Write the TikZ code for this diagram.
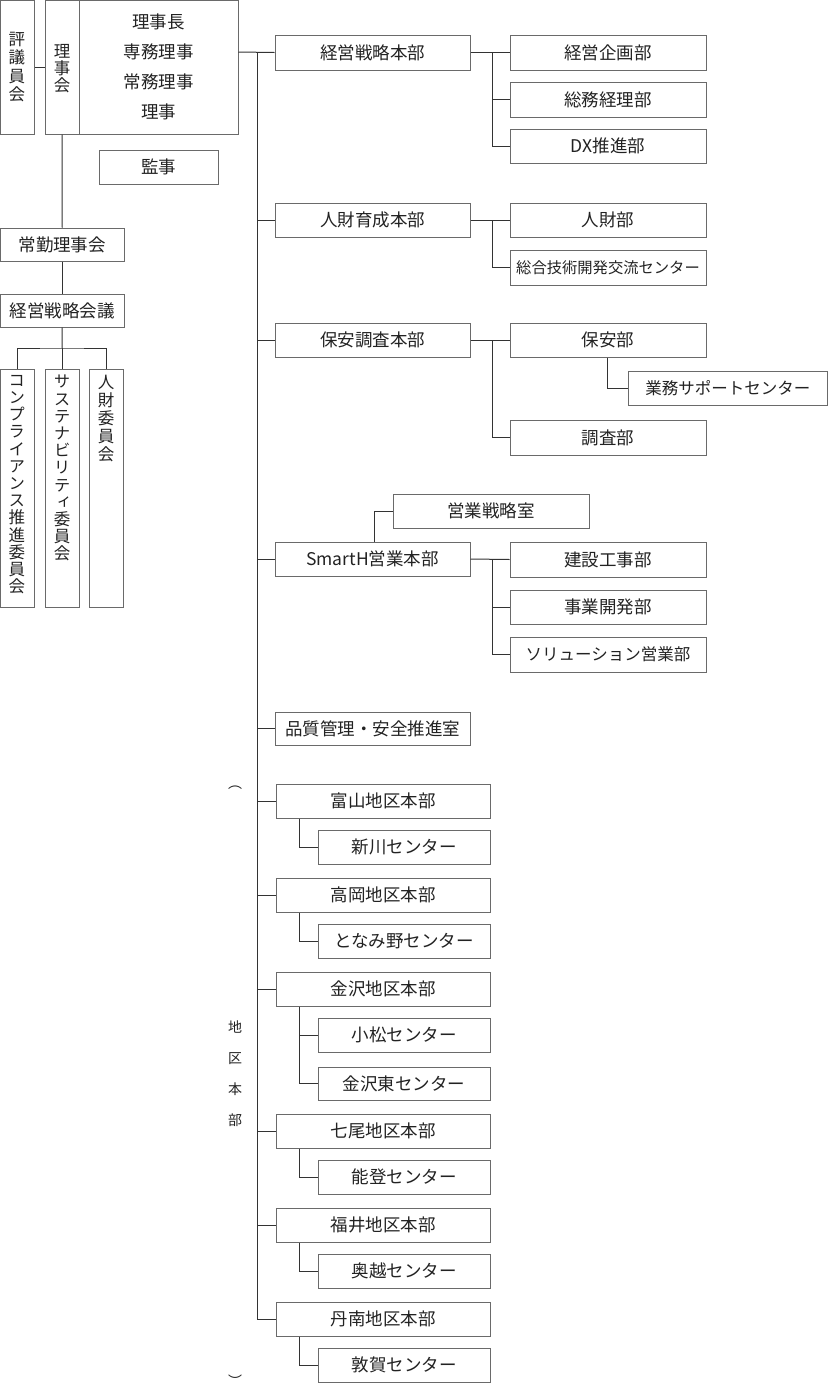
\documentclass[tikz,border=0pt]{standalone}
\usepackage{fontspec}
\newfontfamily\jp{Noto Sans CJK JP}
\newfontfamily\jpv[RawFeature=+vert]{Noto Sans CJK JP}
\definecolor{boxc}{HTML}{6A6A6A}
\definecolor{linec}{HTML}{333333}
\definecolor{txt}{HTML}{222222}
\newcommand\obox[7][]{\node[box,minimum width={#5-#3},minimum height={#6-#4},#1] (#2) at ({(#3+#5)/2},{(#4+#6)/2}) {#7};}
\begin{document}
\begin{tikzpicture}[x=1pt,y=-1pt,
  box/.style={draw=boxc, line width=1pt, inner sep=0pt, text=txt, font=\jp\fontsize{17.5}{19}\selectfont},
  conn/.style={draw=linec, line width=1pt},
  vtext/.style={inner sep=0pt, text=txt, align=center, font=\jpv\fontsize{16.5}{17.2}\selectfont},
  small/.style={font=\jp\fontsize{15.3}{17}\selectfont},
  mid/.style={font=\jp\fontsize{16.5}{18}\selectfont}
]
\useasboundingbox (0,0) rectangle (828,1390);

% left column
\obox{hyo}{0.5}{0.5}{34}{134}{}
\node[vtext, font=\jpv\fontsize{16.5}{18.3}\selectfont] (hyot) at (17,67) {評\\議\\員\\会};
\obox{riji}{45}{0.5}{79}{134}{}
\node[vtext, font=\jpv\fontsize{16.5}{17}\selectfont] (rijit) at (62,69) {理\\事\\会};
\obox[align=center, font=\jp\fontsize{17.5}{30}\selectfont]{rijim}{79}{0.5}{238}{134}{理事長\\専務理事\\常務理事\\理事}
\obox{kanji}{99}{150}{218}{184}{監事}
\obox{jokin}{0.5}{228}{124}{261}{常勤理事会}
\obox{senr}{0.5}{294}{124}{327}{経営戦略会議}
\obox{comp}{0.5}{369}{34}{607}{}
\obox{sus}{45}{369}{79}{607}{}
\obox{jiniin}{89}{369}{123}{607}{}
\node[vtext, anchor=north] (compt) at (17,375) {コ\\ン\\プ\\ラ\\イ\\ア\\ン\\ス\\推\\進\\委\\員\\会};
\node[vtext, anchor=north] (sust) at (62,375) {サ\\ス\\テ\\ナ\\ビ\\リ\\テ\\ィ\\委\\員\\会};
\node[vtext, anchor=north, font=\jpv\fontsize{16.5}{18}\selectfont] (jiniint) at (106,375) {人\\財\\委\\員\\会};

\draw[conn] (hyo.east) -- (riji.west);
\draw[conn] (riji.south) -- (jokin.north);
\draw[conn] (jokin.south) -- (senr.north);
\coordinate (J) at (62,348);
\draw[conn] (senr.south) -- (J);
\draw[conn] (comp.north) |- (J) -| (jiniin.north);
\draw[conn] (J) -- (sus.north);

% headquarters
\obox{keiei}{275}{35}{470}{70}{経営戦略本部}
\obox{kikaku}{510}{35}{706}{70}{経営企画部}
\obox{somu}{510}{82}{706}{117}{総務経理部}
\obox{dx}{510}{129}{706}{163}{DX推進部}

\obox{jinzai}{275}{203}{470}{237}{人財育成本部}
\obox{jinzaibu}{510}{203}{706}{237}{人財部}
\obox[small]{sogo}{510}{250}{706}{285}{総合技術開発交流センター}

\obox{hoan}{275}{323}{470}{357}{保安調査本部}
\obox{hoanbu}{510}{323}{706}{357}{保安部}
\obox[mid]{gyomu}{628}{371}{827.5}{405}{業務サポートセンター}
\obox{chosa}{510}{420}{706}{455}{調査部}

\obox{eisen}{393}{494}{589}{528}{営業戦略室}
\obox{smarth}{275}{542}{470}{576}{SmartH営業本部}
\obox{kensetsu}{510}{542}{706}{577}{建設工事部}
\obox{jigyo}{510}{590}{706}{624}{事業開発部}
\obox[mid]{solution}{510}{637}{706}{672}{ソリューション営業部}

\obox{hinshitsu}{275}{712}{470}{745}{品質管理・安全推進室}

% regional
\obox{toyama}{276}{784}{490}{818}{富山地区本部}
\obox{niikawa}{318}{830}{490}{864}{新川センター}
\obox{takaoka}{276}{878}{490}{912}{高岡地区本部}
\obox{tonami}{318}{924}{490}{958}{となみ野センター}
\obox{kanazawa}{276}{972}{490}{1006}{金沢地区本部}
\obox{komatsu}{318}{1018}{490}{1052}{小松センター}
\obox{higashi}{318}{1067}{490}{1100}{金沢東センター}
\obox{nanao}{276}{1114}{490}{1148}{七尾地区本部}
\obox{noto}{318}{1160}{490}{1194}{能登センター}
\obox{fukui}{276}{1208}{490}{1242}{福井地区本部}
\obox{okuetsu}{318}{1254}{490}{1288}{奥越センター}
\obox{tannan}{276}{1302}{490}{1336}{丹南地区本部}
\obox{tsuruga}{318}{1348}{490}{1382}{敦賀センター}

% vertical label
\node[vtext, font=\jp\fontsize{14}{31}\selectfont] (chiku) at (235,1074) {地\\区\\本\\部};
\node[inner sep=0pt, text=txt, font=\jpv\fontsize{14}{14}\selectfont] (lp) at (235,788) {︵};
\node[inner sep=0pt, text=txt, font=\jpv\fontsize{14}{14}\selectfont] (rp) at (235,1381) {︶};

% trunk
\coordinate (T) at (257,52);
\draw[conn] (rijim.east |- T) -- (keiei.west);
\draw[conn] (T) |- (tannan.west);
\foreach \n in {jinzai,hoan,smarth,hinshitsu,toyama,takaoka,kanazawa,nanao,fukui}
  \draw[conn] (T |- \n.west) -- (\n.west);

% branches
\coordinate (B) at (492,0);
\draw[conn] (keiei.east) -- (kikaku.west);
\draw[conn] (B |- keiei.east) |- (dx.west);
\draw[conn] (B |- somu.west) -- (somu.west);
\draw[conn] (jinzai.east) -- (jinzaibu.west);
\draw[conn] (B |- jinzai.east) |- (sogo.west);
\draw[conn] (hoan.east) -- (hoanbu.west);
\draw[conn] (B |- hoan.east) |- (chosa.west);
\coordinate (G) at (607,0);
\draw[conn] (hoanbu.south -| G) |- (gyomu.west);
\draw[conn] (smarth.east) -- (kensetsu.west);
\draw[conn] (B |- smarth.east) |- (solution.west);
\draw[conn] (B |- jigyo.west) -- (jigyo.west);
\coordinate (E) at (374,0);
\draw[conn] (smarth.north -| E) |- (eisen.west);

\coordinate (R) at (299,0);
\draw[conn] (toyama.south -| R) |- (niikawa.west);
\draw[conn] (takaoka.south -| R) |- (tonami.west);
\draw[conn] (kanazawa.south -| R) |- (higashi.west);
\draw[conn] (R |- komatsu.west) -- (komatsu.west);
\draw[conn] (nanao.south -| R) |- (noto.west);
\draw[conn] (fukui.south -| R) |- (okuetsu.west);
\draw[conn] (tannan.south -| R) |- (tsuruga.west);
\end{tikzpicture}
\end{document}
